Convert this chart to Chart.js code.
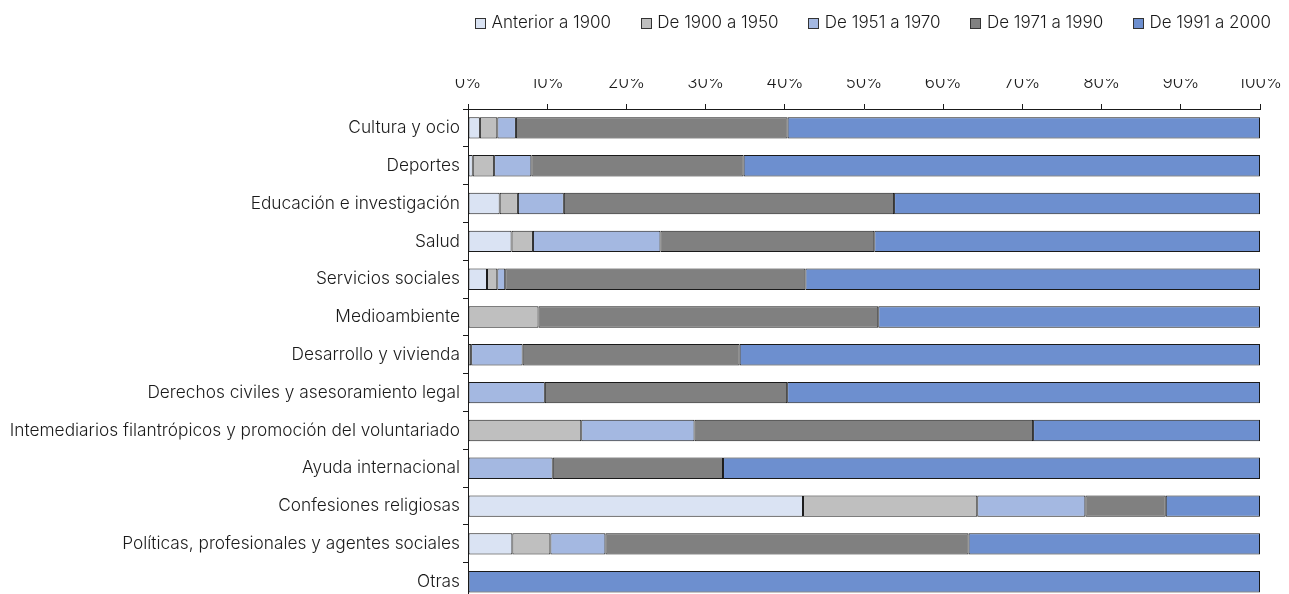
<!DOCTYPE html>
<html>
<head>
<meta charset="utf-8">
<script src="https://cdn.jsdelivr.net/npm/chart.js@4.4.1/dist/chart.umd.min.js"></script>
<style>
  html, body { margin: 0; padding: 0; background: #fff; overflow: hidden; }
  #wrap { position: relative; width: 1289px; height: 614px; }
</style>
</head>
<body>
<div id="wrap"><canvas id="c"></canvas></div>
<script>
const categories = [
  "Cultura y ocio",
  "Deportes",
  "Educación e investigación",
  "Salud",
  "Servicios sociales",
  "Medioambiente",
  "Desarrollo y vivienda",
  "Derechos civiles y asesoramiento legal",
  "Intemediarios filantrópicos y promoción del voluntariado",
  "Ayuda internacional",
  "Confesiones religiosas",
  "Políticas, profesionales y agentes sociales",
  "Otras"
];
const seriesNames = ["Anterior a 1900", "De 1900 a 1950", "De 1951 a 1970", "De 1971 a 1990", "De 1991 a 2000"];
const anterior1900 = [1.5, 0.6, 4.0, 5.5, 2.4, 0, 0, 0, 0, 0, 42.3, 5.6, 0];
const de1900a1950 = [2.2, 2.7, 2.3, 2.7, 1.3, 8.9, 0.4, 0, 14.3, 0, 22.0, 4.8, 0];
const de1951a1970 = [2.35, 4.7, 5.8, 16.1, 1.0, 0, 6.5, 9.7, 14.3, 10.7, 13.65, 6.95, 0];
const de1971a1990 = [34.3, 26.8, 41.7, 27.0, 37.9, 42.9, 27.4, 30.6, 42.75, 21.5, 10.15, 45.85, 0];
const de1991a2000 = [59.65, 65.2, 46.2, 48.7, 57.4, 48.2, 65.7, 59.7, 28.65, 67.8, 11.9, 36.8, 100];
const xTickLabels = ["0%", "10%", "20%", "30%", "40%", "50%", "60%", "70%", "80%", "90%", "100%"];

const colors = ["#dae3f3", "#bfbfbf", "#a4b8e1", "#808080", "#6d8fcf"];
const seriesValues = [anterior1900, de1900a1950, de1951a1970, de1971a1990, de1991a2000];

const FONT = "Inter";
const textColor = "#1a1a1a";

const datasets = seriesNames.map((name, i) => ({
  label: name,
  data: seriesValues[i],
  backgroundColor: colors[i],
  borderColor: "#1a1a1a",
  borderWidth: 1,
  borderSkipped: false,
  categoryPercentage: 1.0,
  barPercentage: 0.566
}));

const legendPlugin = {
  id: "customLegend",
  afterDraw(chart) {
    const ctx = chart.ctx;
    ctx.save();
    ctx.font = "300 17px " + FONT;
    ctx.textBaseline = "middle";
    const box = 10, gapText = 6.5, cy = 22.5, left = 475, right = 1271;
    const items = chart.data.datasets.map(d => ({ label: d.label, color: d.backgroundColor, w: ctx.measureText(d.label).width }));
    const used = items.reduce((s, it) => s + box + gapText + it.w, 0);
    const gapItem = (right - left - used) / (items.length - 1);
    let x = left;
    items.forEach(it => {
      const bx = Math.round(x) + 0.5, by = Math.round(cy - 5) + 0.5;
      ctx.fillStyle = it.color;
      ctx.fillRect(bx, by, box, box);
      ctx.strokeStyle = "#333";
      ctx.lineWidth = 1;
      ctx.strokeRect(bx, by, box, box);
      ctx.fillStyle = textColor;
      ctx.textAlign = "left";
      ctx.fillText(it.label, x + box + gapText, cy);
      x += box + gapText + it.w + gapItem;
    });
    ctx.restore();
  }
};

new Chart(document.getElementById("c"), {
  type: "bar",
  data: { labels: categories, datasets },
  plugins: [legendPlugin],
  options: {
    indexAxis: "y",
    responsive: true,
    maintainAspectRatio: false,
    animation: false,
    layout: { padding: { top: 79, right: 29, left: 0, bottom: 0 } },
    plugins: { legend: { display: false }, tooltip: { enabled: false } },
    scales: {
      x: {
        position: "top",
        stacked: true,
        min: 0,
        max: 100,
        ticks: {
          stepSize: 10,
          autoSkip: false,
          maxRotation: 0,
          padding: 11,
          color: textColor,
          font: { family: FONT, size: 17, weight: "300" },
          callback: (v, i) => xTickLabels[i]
        },
        grid: { drawOnChartArea: false, drawTicks: true, tickLength: 5, tickColor: "#1a1a1a" },
        border: { display: true, color: "#1a1a1a", width: 1 },
        afterFit(scale) { scale.height = 30; scale.paddingRight = 0; scale.paddingLeft = 0; }
      },
      y: {
        stacked: true,
        ticks: {
          autoSkip: false,
          padding: 3,
          color: textColor,
          font: { family: FONT, size: 17.3, weight: "300" }
        },
        grid: { drawOnChartArea: false, drawTicks: true, tickLength: 5, tickColor: "#1a1a1a", offset: true },
        border: { display: true, color: "#1a1a1a", width: 1 },
        afterFit(scale) { scale.width = 468; }
      }
    }
  }
});
</script>
</body>
</html>
